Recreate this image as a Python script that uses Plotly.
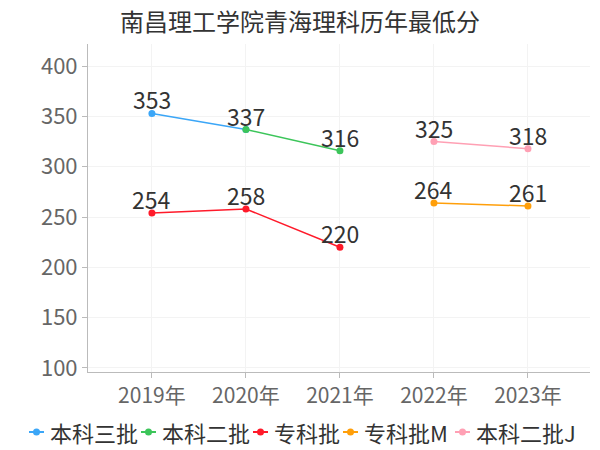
import plotly.graph_objects as go

# Chart data
years = ["2019年", "2020年", "2021年", "2022年", "2023年"]

benke3_x = ["2019年", "2020年"]
benke3_y = [353, 337]

benke2_x = ["2020年", "2021年"]
benke2_y = [337, 316]

zhuanke_x = ["2019年", "2020年", "2021年"]
zhuanke_y = [254, 258, 220]

zhuankeM_x = ["2022年", "2023年"]
zhuankeM_y = [264, 261]

benke2J_x = ["2022年", "2023年"]
benke2J_y = [325, 318]

FONT = "Noto Sans CJK SC, Noto Sans, sans-serif"

# page body has an 8px margin, so the figure is 8px smaller than the window
W, H = 592, 442
L, R, T, B = 80, 10, 36, 78
PW, PH = W - L - R, H - T - B

# (name, x, y, colour, show value label per point)
series = [
    ("本科三批", benke3_x, benke3_y, "#3ba6f7", [True, False]),
    ("本科二批", benke2_x, benke2_y, "#3cc55a", [True, True]),
    ("专科批", zhuanke_x, zhuanke_y, "#ff1a2a", [True, True, True]),
    ("专科批M", zhuankeM_x, zhuankeM_y, "#ff9f0a", [True, True]),
    ("本科二批J", benke2J_x, benke2J_y, "#ffa0b4", [True, True]),
]

# custom legend layout (pixel left edge of each entry's symbol)
legend_left = [21, 133, 245, 335, 447]
legend_cy = 424


def px_to_paper(px, py):
    return (px - L) / PW, (H - B - py) / PH


fig = go.Figure()
annotations = []
shapes = []
for (name, xs, ys, color, show), lx in zip(series, legend_left):
    fig.add_trace(
        go.Scatter(
            x=xs,
            y=ys,
            name=name,
            mode="lines+markers",
            line=dict(color=color, width=1.5),
            marker=dict(color=color, size=7),
            cliponaxis=False,
            showlegend=False,
        )
    )
    # value labels above the points
    for xv, yv, s in zip(xs, ys, show):
        if s:
            annotations.append(dict(
                x=xv, y=yv, xref="x", yref="y", text=str(yv),
                showarrow=False, yanchor="middle", yshift=14,
                font=dict(size=23, color="#333333", family=FONT),
            ))
    # legend entry: short line + dot + name
    x0, yc = px_to_paper(lx, legend_cy)
    x1, _ = px_to_paper(lx + 15, legend_cy)
    xm, _ = px_to_paper(lx + 7.5, legend_cy)
    shapes.append(dict(type="line", xref="paper", yref="paper",
                       x0=x0, x1=x1, y0=yc, y1=yc,
                       line=dict(color=color, width=2)))
    dx, dy = 3.5 / PW, 3.5 / PH
    shapes.append(dict(type="circle", xref="paper", yref="paper",
                       x0=xm - dx, x1=xm + dx, y0=yc - dy, y1=yc + dy,
                       fillcolor=color, line=dict(color=color, width=0)))
    tx, _ = px_to_paper(lx + 19, legend_cy)
    annotations.append(dict(
        x=tx, y=yc, xref="paper", yref="paper", text=name,
        showarrow=False, xanchor="left", yanchor="middle",
        font=dict(size=22, color="#333333", family=FONT),
    ))

fig.update_layout(
    width=W,
    height=H,
    title=dict(
        text="南昌理工学院青海理科历年最低分",
        font=dict(color="#333333", size=24, family=FONT),
        x=(300 - 8) / W,
        xanchor="center",
        y=1 - 15 / H,
        yanchor="middle",
    ),
    paper_bgcolor="#ffffff",
    plot_bgcolor="#ffffff",
    margin=dict(l=L, r=R, t=T, b=B, autoexpand=False),
    font=dict(family=FONT, color="#666666"),
    showlegend=False,
    annotations=annotations,
    shapes=shapes,
    xaxis=dict(
        type="category",
        categoryorder="array",
        categoryarray=years,
        range=[-0.68, 4.66],
        showgrid=True,
        gridcolor="#f3f3f3",
        showline=True,
        linecolor="#bbbbbb",
        ticks="outside",
        tickcolor="#bbbbbb",
        ticklen=5,
        tickfont=dict(size=21, color="#666666", family=FONT),
        zeroline=False,
    ),
    yaxis=dict(
        range=[96, 422],
        tickvals=[100, 150, 200, 250, 300, 350, 400],
        showgrid=True,
        gridcolor="#f3f3f3",
        showline=True,
        linecolor="#bbbbbb",
        ticks="outside",
        tickcolor="#bbbbbb",
        ticklen=5,
        tickfont=dict(size=22, color="#666666", family=FONT),
        zeroline=False,
    ),
)

fig.write_html("out.html")
